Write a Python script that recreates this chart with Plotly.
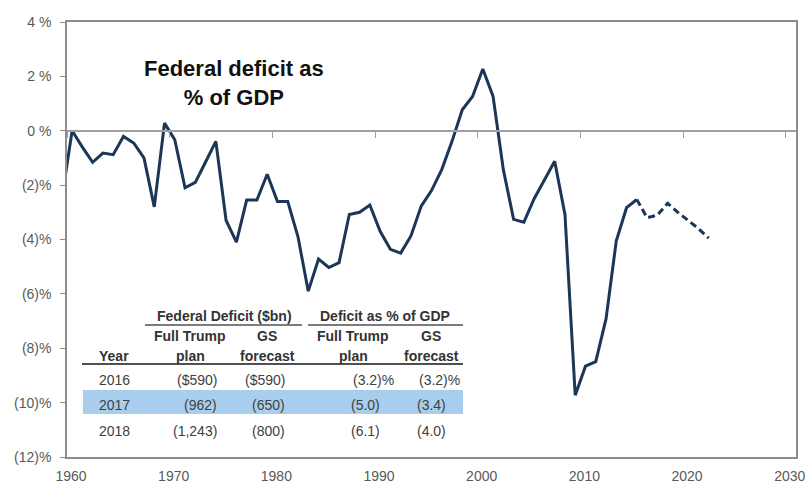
import plotly.graph_objects as go

# ---------------- data ----------------
years = list(range(1959, 2016))
deficit_pct = [-2.5, 0.0, -0.6, -1.16, -0.82, -0.88, -0.21, -0.45, -1.0, -2.8,
               0.28, -0.33, -2.1, -1.9, -1.15, -0.39, -3.3, -4.1, -2.55, -2.55,
               -1.6, -2.6, -2.6, -3.9, -5.9, -4.72, -5.03, -4.85, -3.08, -3.0,
               -2.73, -3.7, -4.36, -4.5, -3.87, -2.77, -2.2, -1.43, -0.39, 0.77,
               1.26, 2.27, 1.26, -1.43, -3.26, -3.36, -2.5, -1.8, -1.12, -3.08,
               -9.73, -8.66, -8.49, -6.92, -4.05, -2.83, -2.53]
forecast_years = [2015, 2016, 2017, 2018, 2019, 2020, 2021, 2022]
forecast_pct = [-2.53, -3.2, -3.1, -2.67, -3.0, -3.3, -3.6, -3.95]

y_tickvals = [4, 2, 0, -2, -4, -6, -8, -10, -12]
y_ticktext = ["4 %", "2 %", "0 %", "(2)%", "(4)%", "(6)%", "(8)%", "(10)%", "(12)%"]
x_tick_years = [1960, 1970, 1980, 1990, 2000, 2010, 2020, 2030]

title_text = "Federal deficit as<br>% of GDP"

table_group_headers = ["Federal Deficit ($bn)", "Deficit as % of GDP"]
table_sub1 = ["", "Full Trump", "GS", "Full Trump", "GS"]
table_sub2 = ["Year", "plan", "forecast", "plan", "forecast"]
table_years = ["2016", "2017", "2018"]
table_trump_bn = ["($590)", "(962)", "(1,243)"]
table_gs_bn = ["($590)", "(650)", "(800)"]
table_trump_pct = ["(3.2)%", "(5.0)", "(6.1)"]
table_gs_pct = ["(3.2)%", "(3.4)", "(4.0)"]
highlight_row = 1

# ---------------- layout helpers (pixel -> paper) ----------------
W, H = 805, 483
L, R, T, B = 67, 796, 22, 457
def px(x):
    return (x - L) / (R - L)
def py(y):
    return (B - y) / (B - T)

def d(y, m=7):
    return f"{y}-{m:02d}-01"

FONT = "Liberation Sans, Arial, sans-serif"
NAVY = "#1B3656"
AXIS = "#8C8C8C"

fig = go.Figure()
fig.add_trace(go.Scatter(
    x=[d(y) for y in years], y=deficit_pct, mode="lines",
    line=dict(color=NAVY, width=3), hoverinfo="skip", showlegend=False))
fig.add_trace(go.Scatter(
    x=[d(y) for y in forecast_years], y=forecast_pct, mode="lines",
    line=dict(color=NAVY, width=3, dash="7px,4px"), hoverinfo="skip",
    showlegend=False, xaxis="x2"))

xr = ["1960-01-01", "2031-01-01"]
fig.update_layout(
    width=W, height=H, margin=dict(l=L, r=W - R, t=T, b=H - B, autoexpand=False),
    plot_bgcolor="white", paper_bgcolor="white",
    font=dict(family=FONT, color="#595959", size=14),
    xaxis=dict(type="date", range=xr, tickvals=[d(y, 1) for y in x_tick_years],
               ticktext=[str(y) for y in x_tick_years], ticks="",
               showline=True, linecolor=AXIS, linewidth=1.5, mirror=True,
               showgrid=False, zeroline=False, ticklabelshift=4,
               ticklabelstandoff=5, automargin=False, ticklabeloverflow="allow",
               tickfont=dict(size=14, color="#595959")),
    xaxis2=dict(type="date", range=xr, overlaying="x", matches="x", anchor="free",
                position=0.75, side="bottom", showline=True, linecolor="#A0A0A0",
                linewidth=1.5, ticks="outside", ticklen=6, tickcolor="#A0A0A0",
                tickvals=[d(y, 1) for y in x_tick_years], showticklabels=False,
                showgrid=False, zeroline=False, automargin=False),
    yaxis=dict(range=[-12, 4], tickvals=y_tickvals, ticktext=y_ticktext,
               ticks="outside", ticklen=5, tickcolor=AXIS, showline=True,
               linecolor=AXIS, linewidth=1.5, mirror=True, showgrid=False,
               zeroline=False, ticklabelstandoff=6, automargin=False,
               ticklabeloverflow="allow",
               tickfont=dict(size=14, color="#595959")),
)

ann = []
ann.append(dict(text="<b>" + title_text + "</b>", x=px(234), y=py(83), xref="paper",
                yref="paper", showarrow=False, xanchor="center", yanchor="middle",
                font=dict(size=22, color="#111111", family=FONT), align="center"))

HDR = dict(size=14, color="#333333", family=FONT)
DAT = dict(size=14, color="#404040", family=FONT)

group_centers = [224, 385]
for txt, cx in zip(table_group_headers, group_centers):
    ann.append(dict(text="<b>" + txt + "</b>", x=px(cx), y=py(316), xref="paper",
                    yref="paper", showarrow=False, xanchor="center", yanchor="middle",
                    font=HDR))
col_centers = [114, 190, 267, 353, 431]
for txt, cx in zip(table_sub1, col_centers):
    if txt:
        ann.append(dict(text="<b>" + txt + "</b>", x=px(cx), y=py(336), xref="paper",
                        yref="paper", showarrow=False, xanchor="center",
                        yanchor="middle", font=HDR))
for txt, cx in zip(table_sub2, col_centers):
    ann.append(dict(text="<b>" + txt + "</b>", x=px(cx), y=py(356), xref="paper",
                    yref="paper", showarrow=False, xanchor="center", yanchor="middle",
                    font=HDR))

row_y = [380, 405, 431]
for i, ry in enumerate(row_y):
    ann.append(dict(text=table_years[i], x=px(114), y=py(ry), xref="paper",
                    yref="paper", showarrow=False, xanchor="center", yanchor="middle",
                    font=DAT))
    ann.append(dict(text=table_trump_bn[i], x=px(219), y=py(ry), xref="paper",
                    yref="paper", showarrow=False, xanchor="right", yanchor="middle",
                    font=DAT))
    ann.append(dict(text=table_gs_bn[i], x=px(287), y=py(ry), xref="paper",
                    yref="paper", showarrow=False, xanchor="right", yanchor="middle",
                    font=DAT))
    tp = table_trump_pct[i]
    ann.append(dict(text=tp, x=px(396 if tp.endswith("%") else 382), y=py(ry),
                    xref="paper", yref="paper", showarrow=False, xanchor="right",
                    yanchor="middle", font=DAT))
    gp = table_gs_pct[i]
    ann.append(dict(text=gp, x=px(462 if gp.endswith("%") else 448), y=py(ry),
                    xref="paper", yref="paper", showarrow=False, xanchor="right",
                    yanchor="middle", font=DAT))

shapes = []
hy = row_y[highlight_row]
shapes.append(dict(type="rect", xref="paper", yref="paper", x0=px(83), x1=px(463),
                   y0=py(hy - 15), y1=py(hy + 9), fillcolor="#A9CDEC",
                   line=dict(width=0), layer="below"))
shapes.append(dict(type="line", xref="paper", yref="paper", x0=px(82), x1=px(463),
                   y0=py(364), y1=py(364), line=dict(color="#505050", width=2)))
shapes.append(dict(type="line", xref="paper", yref="paper", x0=px(145), x1=px(302),
                   y0=py(325), y1=py(325), line=dict(color="#505050", width=1.5)))
shapes.append(dict(type="line", xref="paper", yref="paper", x0=px(308), x1=px(463),
                   y0=py(325), y1=py(325), line=dict(color="#505050", width=1.5)))

fig.update_layout(annotations=ann, shapes=shapes)
fig.write_html("out.html")
